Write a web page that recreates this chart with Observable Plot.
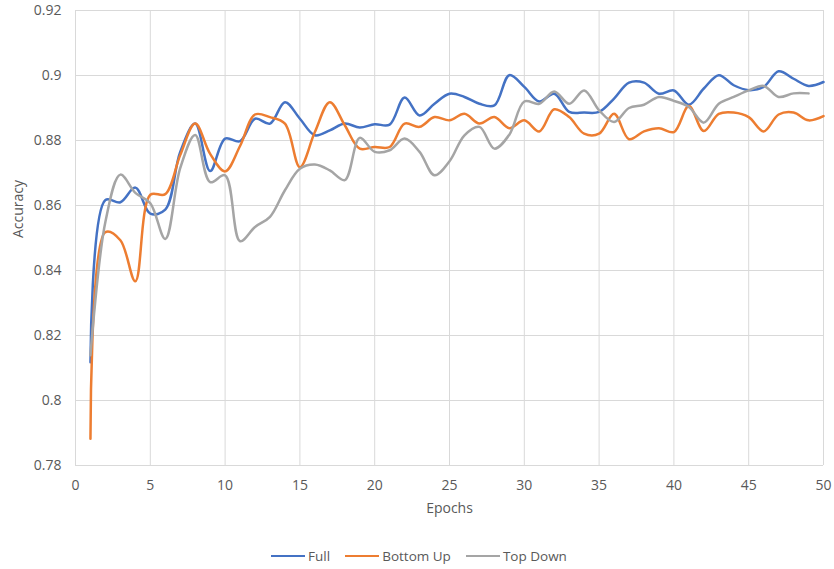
<!DOCTYPE html>
<html>
<head>
<meta charset="utf-8">
<script src="https://cdn.jsdelivr.net/npm/d3@7"></script>
<script src="https://cdn.jsdelivr.net/npm/@observablehq/plot@0.6"></script>
<style>
  body { margin: 0; background: #fff; font-family: "Open Sans", sans-serif; }
  #chart svg { display: block; }
  #legend { display: flex; justify-content: center; align-items: center; gap: 15px; height: 30px; font-size: 13.5px; color: #595959; padding-left: 4px; }
  .item { display: flex; align-items: center; }
  .sw { width: 34px; height: 2.5px; margin-right: 3px; }
</style>
</head>
<body>
<div id="chart"></div>
<div id="legend"></div>
<script>
const epochs = d3.range(1, 51);
const full = [0.8118, 0.8617, 0.861, 0.8655, 0.8575, 0.8587, 0.8765, 0.8852, 0.8706, 0.8806,
  0.8798, 0.8867, 0.8852, 0.8918, 0.8867, 0.8816, 0.8831, 0.8852, 0.884, 0.885,
  0.8849, 0.8932, 0.8877, 0.8913, 0.8944, 0.8934, 0.8913, 0.8908, 0.9001, 0.8965,
  0.892, 0.8944, 0.8888, 0.8886, 0.8888, 0.8929, 0.8978, 0.8978, 0.8944, 0.8954,
  0.891, 0.896, 0.9001, 0.897, 0.8955, 0.8965, 0.9013, 0.899, 0.8968, 0.898];
const bottomUp = [0.7882, 0.8518, 0.8493, 0.8367, 0.8633, 0.8635, 0.8755, 0.8852, 0.8759, 0.8705,
  0.8783, 0.888, 0.8872, 0.8852, 0.8718, 0.8826, 0.8918, 0.8847, 0.8775, 0.878,
  0.878, 0.8852, 0.8842, 0.8872, 0.8862, 0.8882, 0.8852, 0.8872, 0.8838, 0.8862,
  0.8828, 0.8896, 0.8872, 0.8821, 0.8821, 0.8882, 0.8804, 0.8828, 0.8838, 0.8826,
  0.8906, 0.8829, 0.8882, 0.8886, 0.8872, 0.8828, 0.888, 0.8886, 0.8862, 0.8875];
const topDown = [0.8139, 0.855, 0.8695, 0.8639, 0.8607, 0.8497, 0.8715, 0.8817, 0.8672, 0.8693,
  0.849, 0.8534, 0.8565, 0.8647, 0.8713, 0.8726, 0.8708, 0.8678, 0.8808, 0.8765,
  0.877, 0.8806, 0.8765, 0.8693, 0.8736, 0.8816, 0.8842, 0.8775, 0.8818, 0.892,
  0.8913, 0.8951, 0.8913, 0.8954, 0.8893, 0.8857, 0.89, 0.891, 0.8934, 0.8922,
  0.8903, 0.8855, 0.8913, 0.8934, 0.8954, 0.8968, 0.8934, 0.8945, 0.8945];
const seriesNames = ["Full", "Bottom Up", "Top Down"];
const seriesValues = [full, bottomUp, topDown];
const colors = ["#4472C4", "#ED7D31", "#A5A5A5"];
const xTicks = [0, 5, 10, 15, 20, 25, 30, 35, 40, 45, 50];
const yTicks = [0.78, 0.8, 0.82, 0.84, 0.86, 0.88, 0.9, 0.92];

const rows = [];
seriesNames.forEach((name, i) => {
  seriesValues[i].forEach((v, j) => rows.push({series: name, epoch: epochs[j], acc: v}));
});

const font = "Open Sans, sans-serif";
const chart = Plot.plot({
  width: 834,
  height: 541,
  marginLeft: 75,
  marginRight: 11,
  marginTop: 10,
  marginBottom: 76,
  style: {fontFamily: font, fontSize: "14px", color: "#595959", background: "#fff"},
  x: {domain: [0, 50]},
  y: {domain: [0.78, 0.92]},
  color: {domain: seriesNames, range: colors},
  marks: [
    Plot.gridX(xTicks, {stroke: "#d9d9d9", strokeOpacity: 1, strokeWidth: 1}),
    Plot.gridY(yTicks, {stroke: "#d9d9d9", strokeOpacity: 1, strokeWidth: 1}),
    Plot.axisX(xTicks, {tickSize: 0, tickPadding: 15, label: null, fill: "#595959", fontSize: 14}),
    Plot.axisY(yTicks, {tickSize: 0, tickPadding: 14, label: null, fill: "#595959", fontSize: 14,
      tickFormat: d => String(+d.toFixed(2))}),
    Plot.line(rows, {x: "epoch", y: "acc", z: "series", stroke: "series",
      strokeWidth: 2.5, curve: "catmull-rom"}),
    Plot.text(["Epochs"], {frameAnchor: "bottom", dy: 47, fill: "#595959", fontSize: 14}),
    Plot.text(["Accuracy"], {frameAnchor: "left", dx: -57, rotate: -90, fill: "#595959", fontSize: 14})
  ]
});
document.getElementById("chart").appendChild(chart);

const legend = document.getElementById("legend");
seriesNames.forEach((name, i) => {
  const item = document.createElement("div");
  item.className = "item";
  const sw = document.createElement("div");
  sw.className = "sw";
  sw.style.background = colors[i];
  const t = document.createElement("span");
  t.textContent = name;
  item.appendChild(sw);
  item.appendChild(t);
  legend.appendChild(item);
});
</script>
</body>
</html>
